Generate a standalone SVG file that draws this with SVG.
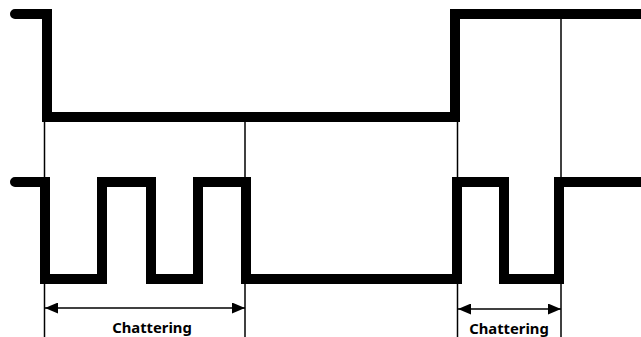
<svg xmlns="http://www.w3.org/2000/svg" width="641" height="337" viewBox="0 0 641 337">
  <defs>
    <style>
      .wave { fill: none; stroke: #000; stroke-width: 10; stroke-linecap: round; stroke-linejoin: miter; }
      .guide { fill: none; stroke: #000; stroke-width: 1.5; }
      .dim { fill: none; stroke: #000; stroke-width: 1.5; marker-start: url(#arrowL); marker-end: url(#arrowR); }
      .label { font-family: "Noto Sans", "Liberation Sans", sans-serif; font-weight: bold; font-size: 14.8px; fill: #000; text-anchor: middle; }
    </style>
    <marker id="arrowR" viewBox="0 0 13 11" refX="13" refY="5.5" markerWidth="13" markerHeight="11" markerUnits="userSpaceOnUse" orient="auto">
      <path d="M0,0 L13,5.5 L0,11 Z" fill="#000"/>
    </marker>
    <marker id="arrowL" viewBox="0 0 13 11" refX="0" refY="5.5" markerWidth="13" markerHeight="11" markerUnits="userSpaceOnUse" orient="auto">
      <path d="M13,0 L0,5.5 L13,11 Z" fill="#000"/>
    </marker>
  </defs>

  <rect width="641" height="337" fill="#fff"/>

  <!-- clean signal -->
  <g id="clean-signal">
    <path class="wave" d="M15,14 H47 V117 H455 V14 H660"/>
  </g>

  <!-- bouncing input signal -->
  <g id="bouncing-signal">
    <path class="wave" d="M15,182 H45 V279 H102 V182 H151 V279 H198 V182 H246 V279 H457 V182 H504 V279 H559 V182 H660"/>
  </g>

  <!-- guide lines and dimension arrows -->
  <g id="connectors">
    <line class="guide" x1="44.5" y1="117" x2="44.5" y2="337"/>
    <line class="guide" x1="245" y1="117" x2="245" y2="337"/>
    <line class="guide" x1="457.5" y1="117" x2="457.5" y2="337"/>
    <line class="guide" x1="561" y1="14" x2="561" y2="337"/>
    <line class="dim" x1="45" y1="308" x2="245" y2="308"/>
    <line class="dim" x1="458" y1="309" x2="561" y2="309"/>
  </g>

  <g id="label-chattering-1">
    <text class="label" x="152" y="333">Chattering</text>
  </g>
  <g id="label-chattering-2">
    <text class="label" x="509" y="334">Chattering</text>
  </g>
</svg>
